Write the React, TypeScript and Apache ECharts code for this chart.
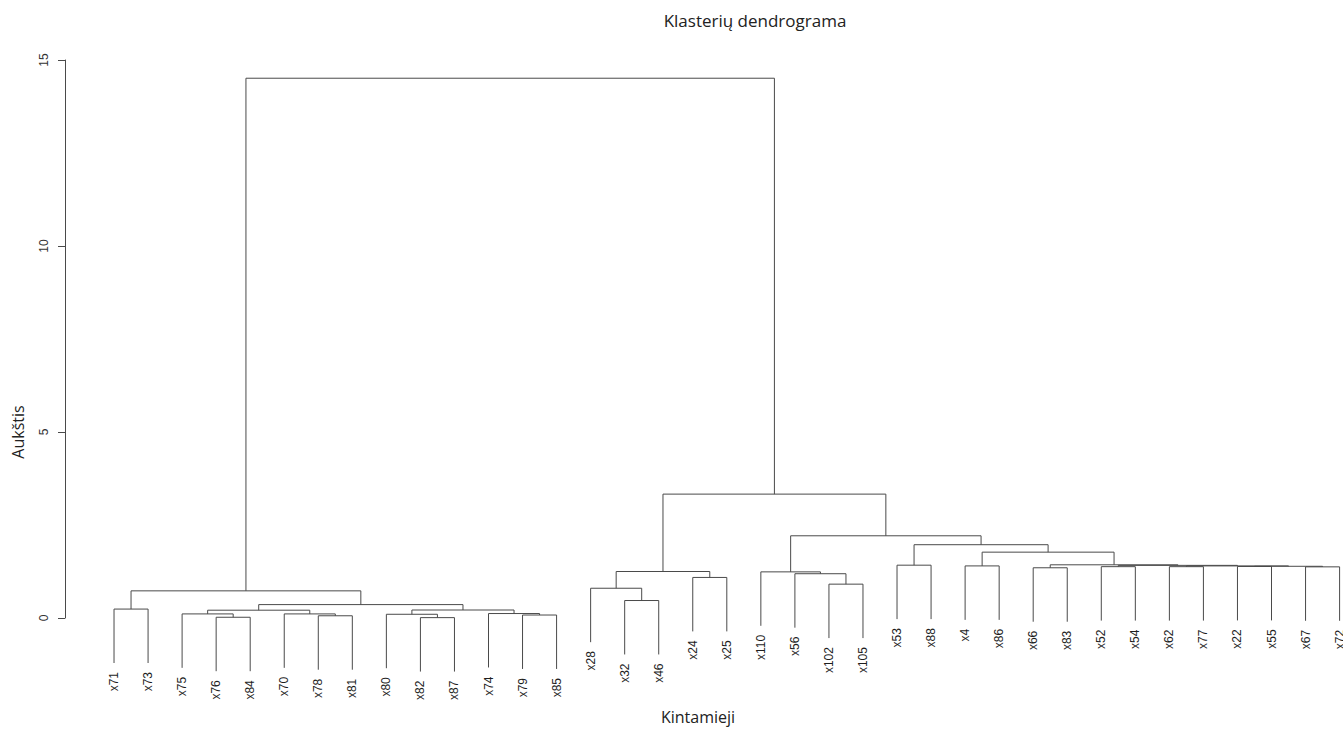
import React, { useEffect, useRef } from 'react';
import * as echarts from 'echarts';

// Leaf order as drawn (left to right)
const leafLabels = [
  'x71', 'x73', 'x75', 'x76', 'x84', 'x70', 'x78', 'x81', 'x80', 'x82', 'x87', 'x74', 'x79', 'x85',
  'x28', 'x32', 'x46', 'x24', 'x25', 'x110', 'x56', 'x102', 'x105',
  'x53', 'x88', 'x4', 'x86', 'x66', 'x83', 'x52', 'x54', 'x62', 'x77', 'x22', 'x55', 'x67', 'x72',
];

// Merge steps: a string child is a leaf, a number child is the index of an earlier merge
const mergeLeft: (string | number)[] = [
  'x82', 'x76', 'x78', 'x79', 'x80', 'x75', 'x70', 'x74', 5, 4, 'x71', 8, 10,
  'x32', 'x28', 'x102', 'x24', 'x56', 14, 'x110',
  'x66', 'x67', 'x52', 'x62', 'x22', 24, 23, 22, 'x4', 'x53', 20, 28, 29, 19, 18, 12,
];
const mergeRight: (string | number)[] = [
  'x87', 'x84', 'x81', 'x85', 0, 1, 2, 3, 6, 7, 'x73', 9, 11,
  'x46', 13, 'x105', 'x25', 15, 16, 17,
  'x83', 'x72', 'x54', 'x77', 'x55', 21, 25, 26, 'x86', 'x88', 27, 30, 31, 32, 33, 34,
];
const mergeHeight: number[] = [
  0.01, 0.02, 0.06, 0.08, 0.10, 0.11, 0.11, 0.12, 0.21, 0.215, 0.24, 0.36, 0.73,
  0.47, 0.80, 0.91, 1.09, 1.19, 1.25, 1.24,
  1.35, 1.375, 1.38, 1.38, 1.385, 1.39, 1.40, 1.415, 1.40, 1.42, 1.43, 1.77, 1.97, 2.21, 3.33, 14.51,
];

const yTicks = [0, 5, 10, 15];

const chartTitle = 'Klasterių dendrograma';
const xTitle = 'Kintamieji';
const yTitle = 'Aukštis';

function buildTree() {
  const hMax = Math.max(...mergeHeight);
  const hMin = Math.min(...mergeHeight);
  const hang = 0.1 * (hMax - hMin);
  const centers: number[] = [];
  const segments: number[][] = [];
  const leafEnds: number[] = new Array(leafLabels.length).fill(0);
  mergeHeight.forEach((h, i) => {
    const child = (c: string | number) => {
      if (typeof c === 'string') {
        const pos = leafLabels.indexOf(c) + 1;
        leafEnds[pos - 1] = h - hang;
        return { x: pos, y: h - hang };
      }
      return { x: centers[c], y: mergeHeight[c] };
    };
    const l = child(mergeLeft[i]);
    const r = child(mergeRight[i]);
    centers[i] = (l.x + r.x) / 2;
    segments.push([l.x, r.x, h, l.y, r.y]);
  });
  return { segments, leafEnds };
}

export default function App() {
  const ref = useRef<HTMLDivElement>(null);
  useEffect(() => {
    if (!ref.current) return;
    const chart = echarts.init(ref.current, null, { renderer: 'svg' });
    const { segments, leafEnds } = buildTree();
    const lineColor = '#4a4a4a';
    const option: any = {
      animation: false,
      backgroundColor: '#ffffff',
      grid: { left: 97, right: 0, top: 60, bottom: 113 },
      xAxis: { type: 'value', min: 0.5, max: 37.1, show: false },
      yAxis: {
        type: 'value',
        min: 0,
        max: 15,
        interval: 5,
        position: 'left',
        offset: 32,
        splitLine: { show: false },
        axisLine: { show: true, lineStyle: { color: lineColor, width: 1 } },
        axisTick: { show: true, length: 7, lineStyle: { color: lineColor, width: 1 } },
        axisLabel: {
          rotate: 90,
          margin: 15,
          color: '#333',
          fontSize: 12,
          fontFamily: 'Liberation Sans, Arial, sans-serif',
          formatter: (v: number) => (yTicks.includes(v) ? String(v) : ''),
        },
      },
      graphic: [
        {
          type: 'text',
          x: 755,
          y: 20,
          style: {
            text: chartTitle,
            align: 'center',
            verticalAlign: 'middle',
            fill: '#222',
            font: '17px "Open Sans", sans-serif',
          },
        },
        {
          type: 'text',
          x: 698,
          y: 717,
          style: {
            text: xTitle,
            align: 'center',
            verticalAlign: 'middle',
            fill: '#222',
            font: '16px "Open Sans", sans-serif',
          },
        },
        {
          type: 'text',
          x: 18,
          y: 432,
          rotation: Math.PI / 2,
          style: {
            text: yTitle,
            align: 'center',
            verticalAlign: 'middle',
            fill: '#222',
            font: '16px "Open Sans", sans-serif',
          },
        },
      ],
      series: [
        {
          type: 'custom',
          clip: false,
          silent: true,
          encode: { x: [0, 1], y: [2, 3, 4] },
          data: segments,
          renderItem: (_params: any, api: any) => {
            const xl = api.value(0);
            const xr = api.value(1);
            const h = api.value(2);
            const yl = api.value(3);
            const yr = api.value(4);
            const pts = [
              api.coord([xl, yl]),
              api.coord([xl, h]),
              api.coord([xr, h]),
              api.coord([xr, yr]),
            ];
            return {
              type: 'polyline',
              shape: { points: pts },
              style: { stroke: lineColor, lineWidth: 1, fill: 'none' },
            };
          },
        },
        {
          type: 'custom',
          clip: false,
          silent: true,
          encode: { x: 0, y: 1 },
          data: leafLabels.map((name, i) => [i + 1, leafEnds[i], name]),
          renderItem: (params: any, api: any) => {
            const p = api.coord([api.value(0), api.value(1)]);
            return {
              type: 'text',
              x: p[0],
              y: p[1] + 9,
              rotation: Math.PI / 2,
              style: {
                text: leafLabels[params.dataIndex],
                align: 'right',
                verticalAlign: 'middle',
                fill: '#1e1e1e',
                font: '12px "Liberation Sans", Arial, sans-serif',
              },
            };
          },
        },
      ],
    };
    chart.setOption(option);
    return () => chart.dispose();
  }, []);
  return (
    <div
      ref={ref}
      style={{ position: 'fixed', left: 0, top: 0, width: 1343, height: 731, background: '#fff' }}
    />
  );
}
